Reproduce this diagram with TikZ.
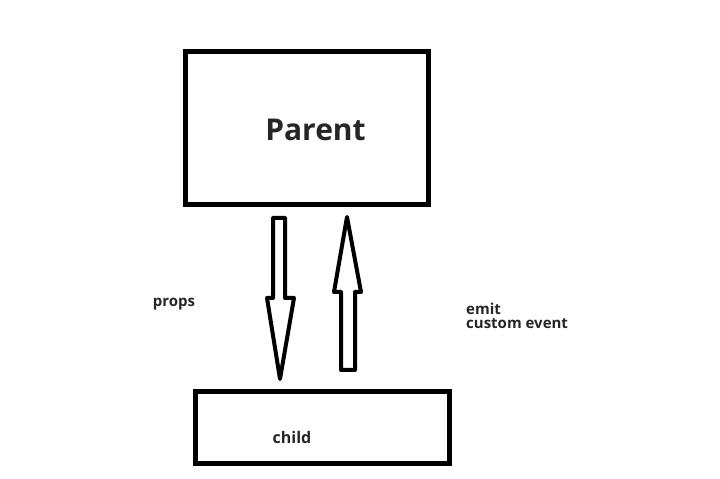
\documentclass[tikz,border=0pt]{standalone}
\usepackage{fontspec}
\setmainfont{Open Sans}
\begin{document}
\begin{tikzpicture}[x=1pt,y=1pt,
  box/.style={draw=black,line width=4.5pt,fill=white},
  arrowshape/.style={draw=black,line width=4pt,line join=round,fill=white},
  lbl/.style={inner sep=0pt,text=black!85,font=\bfseries}]
\useasboundingbox[fill=white] (0,0) rectangle (720,479);
\draw[box] (185.5,427.5) rectangle (428.5,274.5);
\draw[box] (195.5,87.5) rectangle (449.5,15.5);
\node[lbl,font=\fontsize{30}{32}\selectfont\bfseries] (parent) at (315.5,349) {Parent};
\node[lbl,font=\fontsize{16}{18}\selectfont\bfseries] (child) at (292,41) {child};
% down arrow (props)
\draw[arrowshape] (273,261) -- (285,261) -- (285,181) -- (294,181) -- (280,100) -- (267,181) -- (273,181) -- cycle;
% up arrow (emit)
\draw[arrowshape] (347,262) -- (361,187) -- (355,187) -- (355,109) -- (341,109) -- (341,187) -- (334,187) -- cycle;
\node[lbl,font=\fontsize{15}{17}\selectfont\bfseries] (props) at (174,175) {props};
\node[lbl,anchor=west,align=left,font=\fontsize{15}{13.5}\selectfont\bfseries] (emit) at (466,163) {emit\\custom event};
\end{tikzpicture}
\end{document}
